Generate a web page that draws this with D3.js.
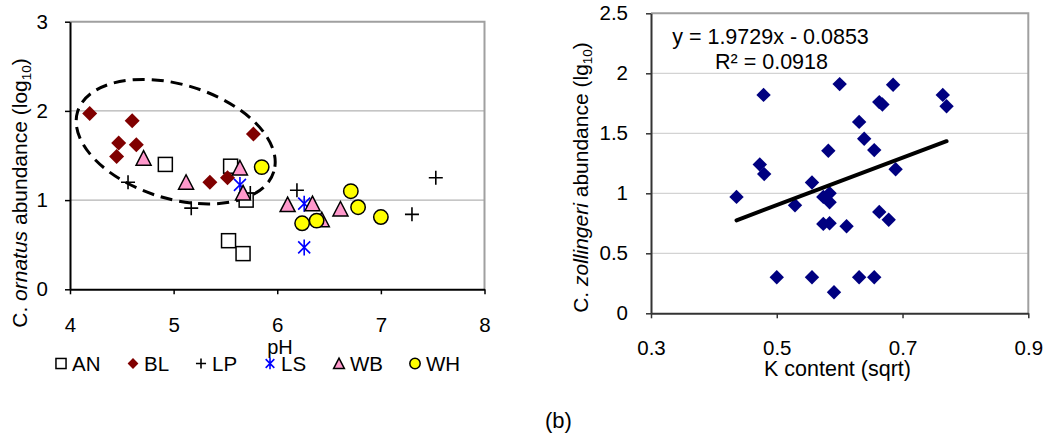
<!DOCTYPE html>
<html><head><meta charset="utf-8">
<script src="https://cdn.jsdelivr.net/npm/d3@7"></script>
<style>
body{margin:0;background:#fff}
svg{display:block}
text{font-family:"Liberation Sans",Arial,sans-serif;fill:#000}
</style>
</head><body>
<svg id="c" width="1044" height="436"></svg>
<script>
// ---------- Data: panel (a) ----------
const phTicks = [4, 5, 6, 7, 8];
const abTicks = [0, 1, 2, 3];
const seriesNames = ["AN", "BL", "LP", "LS", "WB", "WH"];
const AN_ph = [4.92, 5.55, 5.70, 5.53, 5.67];
const AN_ab = [1.40, 1.38, 1.00, 0.545, 0.40];
const BL_ph = [4.19, 4.60, 4.47, 4.64, 4.45, 5.35, 5.52, 5.77];
const BL_ab = [1.97, 1.89, 1.64, 1.62, 1.49, 1.20, 1.25, 1.74];
const LP_ph = [4.56, 5.17, 5.74, 6.19, 7.30, 7.53];
const LP_ab = [1.20, 0.91, 1.08, 1.11, 0.84, 1.25];
const LS_ph = [5.64, 6.26, 6.26];
const LS_ab = [1.17, 0.96, 0.47];
const WB_ph = [4.71, 5.12, 5.64, 5.67, 6.10, 6.34, 6.43, 6.61];
const WB_ab = [1.47, 1.20, 1.36, 1.08, 0.95, 0.96, 0.78, 0.90];
const WH_ph = [5.85, 6.71, 6.78, 7.00, 6.24, 6.38];
const WH_ab = [1.37, 1.10, 0.92, 0.81, 0.74, 0.77];
// dashed ellipse annotation (data units): centre pH, centre abundance, semi-axes
const ellipseCentre = [5.02, 1.655];
const ellipseSemi = [0.99, 0.64];

// ---------- Data: panel (b) ----------
const kTicks = [0.3, 0.5, 0.7, 0.9];
const zTicks = [0, 0.5, 1, 1.5, 2, 2.5];
const K_content = [0.436,0.479,0.473,0.480,0.500,0.529,0.556,0.556,0.574,0.584,0.584,0.574,0.584,0.582,0.600,0.591,0.611,0.631,0.639,0.631,0.655,0.655,0.663,0.663,0.668,0.678,0.685,0.689,0.764,0.770];
const Z_abund   = [0.97,1.82,1.24,1.16,0.30,0.90,1.09,0.30,0.97,1.00,0.925,0.745,0.75,1.355,1.91,0.175,0.725,1.595,1.455,0.30,1.36,0.30,0.845,1.76,1.74,0.78,1.905,1.20,1.82,1.725];
const trendSlope = 1.9729, trendIntercept = -0.0853;
const eqText = "y = 1.9729x - 0.0853";
const r2Text = "R² = 0.0918";

const svg = d3.select("#c");

function marker(g, type, s) {
  const k = s || 1;
  if (type === "AN") g.append("rect").attr("x", -7*k).attr("y", -7*k).attr("width", 14*k).attr("height", 14*k)
      .attr("fill", "#fff").attr("stroke", "#000").attr("stroke-width", 1.5);
  else if (type === "BL") g.append("path").attr("d", `M0,${-7.5*k}L${7.5*k},0L0,${7.5*k}L${-7.5*k},0Z`).attr("fill", "#800000");
  else if (type === "LP") g.append("path").attr("d", `M${-7*k},0H${7*k}M0,${-7*k}V${7*k}`).attr("stroke", "#000").attr("stroke-width", 1.6);
  else if (type === "LS") g.append("path").attr("d", `M0,${-8*k}V${8*k}M${-6*k},${-6*k}L${6*k},${6*k}M${6*k},${-6*k}L${-6*k},${6*k}`)
      .attr("stroke", "#0000ff").attr("stroke-width", 1.6);
  else if (type === "WB") g.append("path").attr("d", `M0,${-7.5*k}L${7.5*k},${7*k}L${-7.5*k},${7*k}Z`)
      .attr("fill", "#ff99cc").attr("stroke", "#000").attr("stroke-width", 1.5).attr("stroke-linejoin", "miter");
  else if (type === "WH") g.append("circle").attr("r", 7.2*k).attr("fill", "#ffff00").attr("stroke", "#000").attr("stroke-width", 1.5);
  else if (type === "K") g.append("path").attr("d", `M0,${-7.2*k}L${7.2*k},0L0,${7.2*k}L${-7.2*k},0Z`).attr("fill", "#000080");
}

// =============== Panel (a) ===============
const xA = d3.scaleLinear().domain([4, 8]).range([70, 484.5]);
const yA = d3.scaleLinear().domain([0, 3]).range([289.3, 21.7]);
const gA = svg.append("g");

gA.selectAll("line.grid").data(abTicks.filter(t => t > 0 && t < 3)).join("line")
  .attr("x1", xA(4)).attr("x2", xA(8)).attr("y1", d => yA(d)).attr("y2", d => yA(d))
  .attr("stroke", "#a0a0a0").attr("stroke-width", 1);
gA.append("path").attr("d", `M${xA(4)},${yA(3)}H${xA(8)}V${yA(0)}`).attr("fill", "none")
  .attr("stroke", "#a0a0a0").attr("stroke-width", 2);

const axA_y = gA.append("g").attr("transform", `translate(${xA(4)},0)`)
  .call(d3.axisLeft(yA).tickValues(abTicks).tickSize(5).tickSizeOuter(0).tickPadding(17).tickFormat(d3.format("d")));
const axA_x = gA.append("g").attr("transform", `translate(0,${yA(0)})`)
  .call(d3.axisBottom(xA).tickValues(phTicks).tickSize(5).tickSizeOuter(0).tickPadding(23).tickFormat(d3.format("d")));
[axA_x, axA_y].forEach(a => {
  a.select(".domain").attr("stroke", "#000").attr("stroke-width", 2);
  a.selectAll(".tick line").attr("stroke", "#000").attr("stroke-width", 1.5);
  a.selectAll("text").attr("font-size", 20.5).attr("font-family", "Liberation Sans, Arial, sans-serif");
});

const ecx = xA(ellipseCentre[0]), ecy = yA(ellipseCentre[1]);
gA.append("ellipse")
  .attr("cx", 0).attr("cy", 0)
  .attr("rx", xA(4 + ellipseSemi[0]) - xA(4)).attr("ry", yA(0) - yA(ellipseSemi[1]))
  .attr("transform", `translate(${ecx},${ecy}) rotate(17)`)
  .attr("fill", "none").attr("stroke", "#000").attr("stroke-width", 3).attr("stroke-dasharray", "12,7");

const seriesA = [
  ["AN", AN_ph, AN_ab], ["BL", BL_ph, BL_ab], ["LP", LP_ph, LP_ab],
  ["LS", LS_ph, LS_ab], ["WB", WB_ph, WB_ab], ["WH", WH_ph, WH_ab]
];
seriesA.forEach(([name, xs, ys]) => {
  xs.forEach((v, i) => {
    const g = gA.append("g").attr("transform", `translate(${xA(v)},${yA(ys[i])})`);
    marker(g, name, 1);
  });
});

gA.append("text").attr("x", 280).attr("y", 354).attr("text-anchor", "middle").attr("font-size", 20).text("pH");
const ytA = gA.append("text").attr("transform", "translate(26.5,193) rotate(-90)").attr("text-anchor", "middle").attr("font-size", 21);
ytA.append("tspan").text("C. ");
ytA.append("tspan").attr("font-style", "italic").text("ornatus");
ytA.append("tspan").text(" abundance (log");
ytA.append("tspan").attr("font-size", 13.5).attr("dy", 4).text("10");
ytA.append("tspan").attr("dy", -4).text(")");

const legX = [61, 133, 201, 270, 339, 415];
seriesNames.forEach((n, i) => {
  const g = gA.append("g").attr("transform", `translate(${legX[i]},363.5)`);
  marker(g, n, 0.72);
  gA.append("text").attr("x", legX[i] + 11).attr("y", 371).attr("font-size", 20.5).text(n);
});

// =============== Panel (b) ===============
const xB = d3.scaleLinear().domain([0.3, 0.9]).range([651, 1028.3]);
const yB = d3.scaleLinear().domain([0, 2.5]).range([313.3, 13.3]);
const gB = svg.append("g");

gB.selectAll("line.grid").data(zTicks.filter(t => t > 0 && t < 2.5)).join("line")
  .attr("x1", xB(0.3)).attr("x2", xB(0.9)).attr("y1", d => yB(d)).attr("y2", d => yB(d))
  .attr("stroke", "#c8c8c8").attr("stroke-width", 1);
gB.append("path").attr("d", `M${xB(0.3)},${yB(2.5)}H${xB(0.9)}V${yB(0)}`).attr("fill", "none")
  .attr("stroke", "#a0a0a0").attr("stroke-width", 2);

const axB_y = gB.append("g").attr("transform", `translate(${xB(0.3)},0)`)
  .call(d3.axisLeft(yB).tickValues(zTicks).tickSize(5).tickSizeOuter(0).tickPadding(18).tickFormat(d => String(d)));
const axB_x = gB.append("g").attr("transform", `translate(0,${yB(0)})`)
  .call(d3.axisBottom(xB).tickValues(kTicks).tickSize(5).tickSizeOuter(0).tickPadding(22).tickFormat(d3.format(".1f")));
[axB_x, axB_y].forEach(a => {
  a.select(".domain").attr("stroke", "#333").attr("stroke-width", 2);
  a.selectAll(".tick line").attr("stroke", "#333").attr("stroke-width", 1.5);
  a.selectAll("text").attr("font-size", 20.5).attr("font-family", "Liberation Sans, Arial, sans-serif");
});

K_content.forEach((v, i) => {
  const g = gB.append("g").attr("transform", `translate(${xB(v)},${yB(Z_abund[i])})`);
  marker(g, "K", 1);
});

const kMin = d3.min(K_content), kMax = d3.max(K_content);
gB.append("line")
  .attr("x1", xB(kMin)).attr("y1", yB(trendSlope * kMin + trendIntercept))
  .attr("x2", xB(kMax)).attr("y2", yB(trendSlope * kMax + trendIntercept))
  .attr("stroke", "#000").attr("stroke-width", 4).attr("stroke-linecap", "round");

gB.append("text").attr("x", 770.5).attr("y", 43.5).attr("text-anchor", "middle").attr("font-size", 21.5).text(eqText);
gB.append("text").attr("x", 771.5).attr("y", 68.5).attr("text-anchor", "middle").attr("font-size", 21.5).text(r2Text);

gB.append("text").attr("x", 837.5).attr("y", 376).attr("text-anchor", "middle").attr("font-size", 21.5).text("K content (sqrt)");
const ytB = gB.append("text").attr("transform", "translate(588,177.5) rotate(-90)").attr("text-anchor", "middle").attr("font-size", 21);
ytB.append("tspan").text("C. ");
ytB.append("tspan").attr("font-style", "italic").text("zollingeri");
ytB.append("tspan").text(" abundance (lg");
ytB.append("tspan").attr("font-size", 13.5).attr("dy", 4).text("10");
ytB.append("tspan").attr("dy", -4).text(")");

svg.append("text").attr("x", 545).attr("y", 428).attr("font-size", 22)
  .attr("font-family", "Liberation Serif, Times New Roman, serif").text("(b)");
</script>
</body></html>
